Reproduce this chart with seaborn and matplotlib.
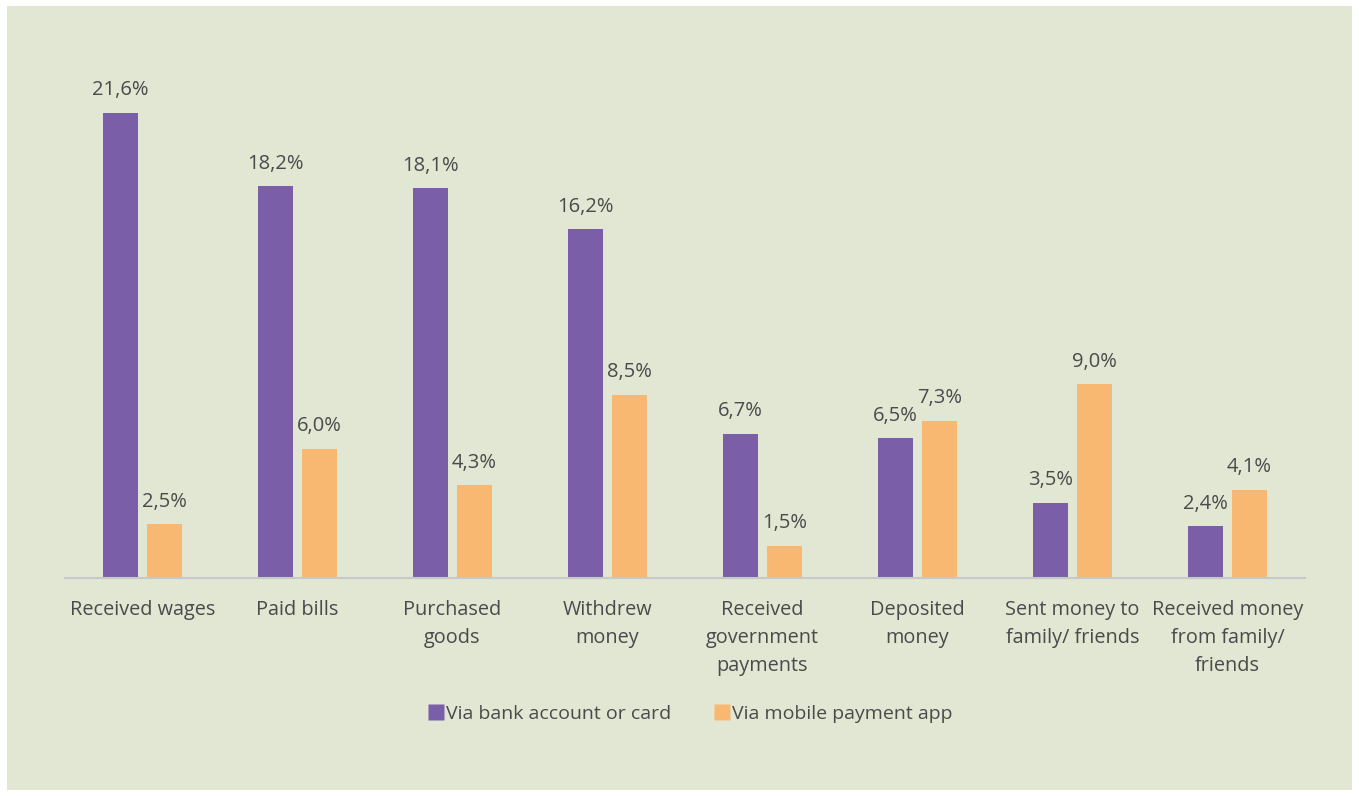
import matplotlib
matplotlib.use("Agg")
import matplotlib.pyplot as plt
from matplotlib.lines import Line2D
from matplotlib.patches import Rectangle
import pandas as pd
import seaborn as sns

categories = [
    "Received wages",
    "Paid bills",
    "Purchased\ngoods",
    "Withdrew\nmoney",
    "Received\ngovernment\npayments",
    "Deposited\nmoney",
    "Sent money to\nfamily/ friends",
    "Received money\nfrom family/\nfriends",
]
bank_values = [21.6, 18.2, 18.1, 16.2, 6.7, 6.5, 3.5, 2.4]
mobile_values = [2.5, 6.0, 4.3, 8.5, 1.5, 7.3, 9.0, 4.1]
series_names = ["Via bank account or card", "Via mobile payment app"]

PALETTE = {series_names[0]: "#7A5EA8", series_names[1]: "#F9B872"}
BG = "#E2E7D4"
TEXT = "#4A4A4A"

df = pd.DataFrame({
    "category": categories * 2,
    "series": [series_names[0]] * len(categories) + [series_names[1]] * len(categories),
    "value": bank_values + mobile_values,
})

sns.set_theme(style="white")
plt.rcParams["font.family"] = ["Open Sans", "DejaVu Sans"]

fig = plt.figure(figsize=(13.59, 7.96), dpi=100, facecolor="white")
fig.patches.append(Rectangle((7 / 1359, 6 / 796), 1345 / 1359, 784 / 796,
                             transform=fig.transFigure, facecolor=BG, edgecolor="none", zorder=-10))
ax = fig.add_axes([65 / 1359, 218 / 796, 1240 / 1359, (578 - 60) / 796])
ax.set_facecolor("none")

sns.barplot(data=df, x="category", y="value", hue="series", palette=PALETTE,
            width=0.565, gap=0.2, ax=ax, legend=False, saturation=1, linewidth=0)

for cont in ax.containers:
    vals = cont.datavalues
    ax.bar_label(cont, labels=[f"{v:.1f}".replace(".", ",") + "%" for v in vals],
                 padding=9, fontsize=14.5, color=TEXT)

ax.set_xlim(-0.5, len(categories) - 0.5)
ax.set_ylim(0, (578 - 60) / 21.53)
ax.set_xlabel("")
ax.set_ylabel("")
ax.set_yticks([])
ax.tick_params(axis="x", length=0, pad=16, labelsize=14.3, labelcolor=TEXT)
for lab in ax.get_xticklabels():
    lab.set_linespacing(1.52)
for s in ["top", "right", "left"]:
    ax.spines[s].set_visible(False)
ax.spines["bottom"].set_color("#C8C8C8")
ax.spines["bottom"].set_linewidth(1.5)

handles = [Line2D([], [], marker="s", linestyle="none", markersize=11,
                  markerfacecolor=PALETTE[n], markeredgecolor="none") for n in series_names]
fig.legend(handles, series_names, loc="center", bbox_to_anchor=(0.508, 0.103), ncol=2,
           frameon=False, fontsize=14, labelcolor=TEXT, handletextpad=0.1,
           columnspacing=2.2, handlelength=0.8)

fig.savefig("out.png", dpi=100, facecolor="white")
